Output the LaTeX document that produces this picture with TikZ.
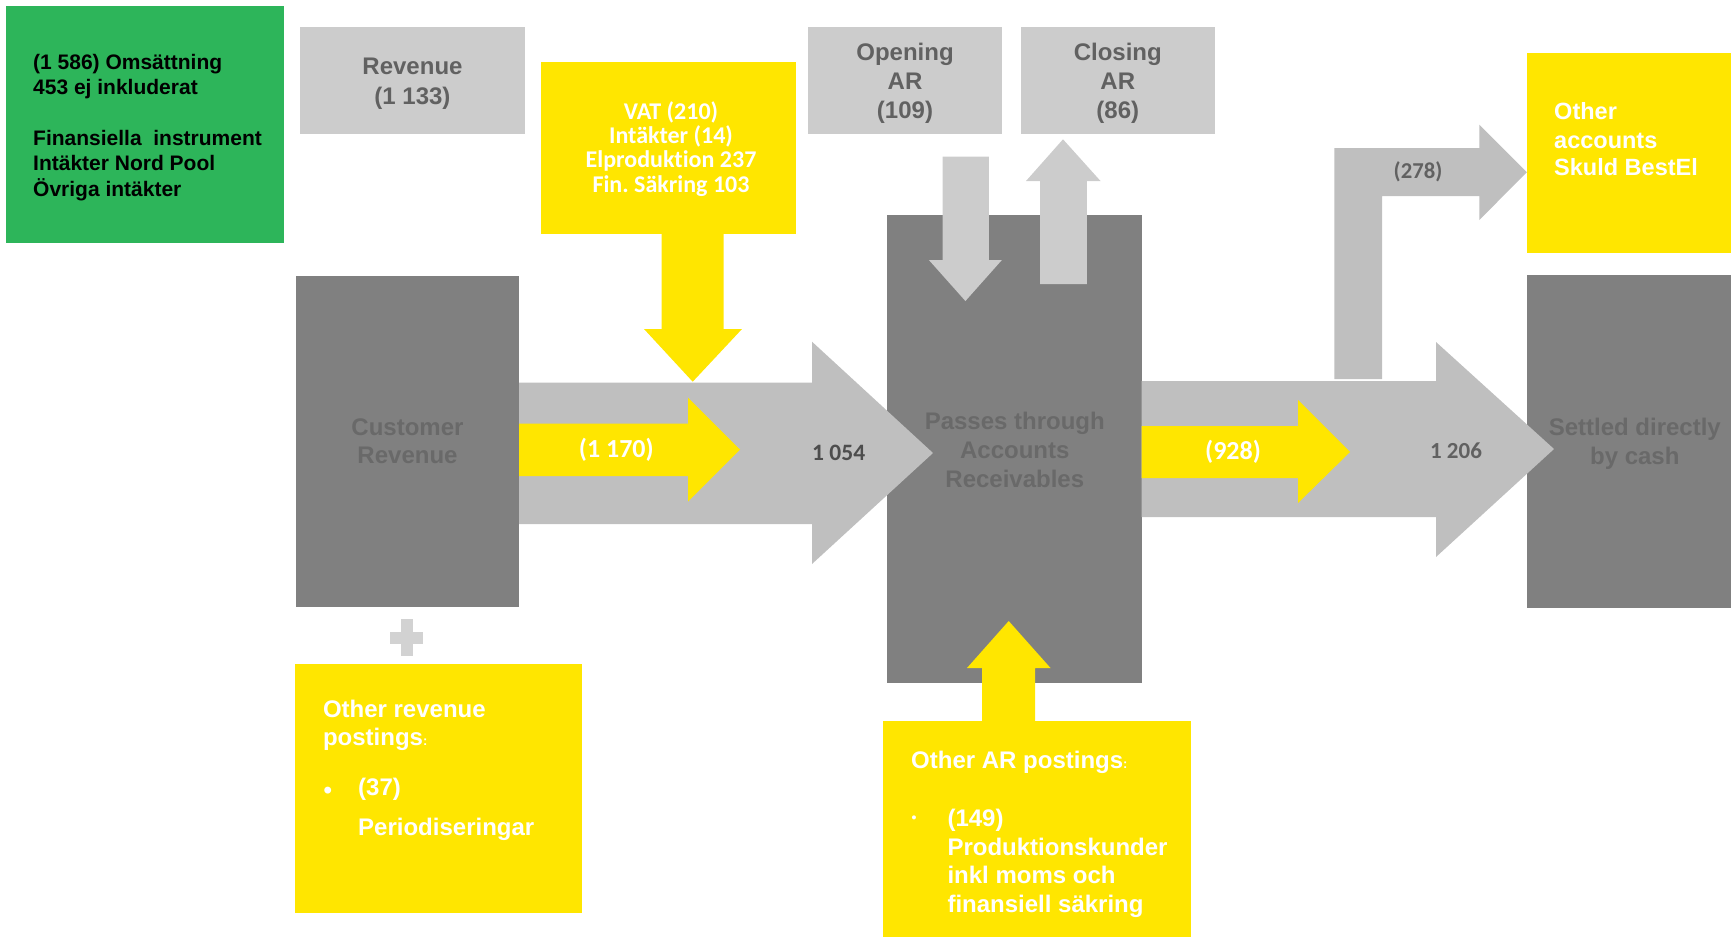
\documentclass[tikz,border=0pt]{standalone}
\usepackage{fontspec}
\setmainfont{Liberation Sans}
\newfontfamily\calfont{Carlito}[Ligatures=NoCommon]
\usetikzlibrary{fit}
\frenchspacing
\definecolor{eygreen}{HTML}{2DB55A}
\definecolor{eyyellow}{HTML}{FFE600}
\definecolor{boxlight}{HTML}{CCCCCC}
\definecolor{arrowgray}{HTML}{BFBFBF}
\definecolor{boxdark}{HTML}{808080}
\definecolor{txtlight}{HTML}{616161}
\definecolor{txtdark}{HTML}{696969}
\definecolor{numtxt}{HTML}{4D4D4D}
\definecolor{plusgray}{HTML}{D2D2D2}
\tikzset{
  blk/.style={inner sep=0pt, outer sep=0pt, draw=none},
  ln/.style={inner sep=0pt, anchor=base},
  lnl/.style={inner sep=0pt, anchor=base west},
  aria/.style={font=\fontsize{24}{28}\selectfont\bfseries},
  ariagr/.style={font=\fontsize{21}{25}\selectfont\bfseries},
  calb/.style={font=\calfont\fontsize{24}{24}\selectfont\bfseries},
}
\begin{document}
\begin{tikzpicture}[x=1pt,y=-1pt]
\useasboundingbox (0,0) rectangle (1731,937);

% ---------- boxes ----------
\node[blk, fill=eygreen, fit={(5.5,5.5) (284,243)}] (green) {};
\node[blk, fill=boxlight, fit={(300,27) (525,133.7)}] (rev) {};
\node[blk, fill=eyyellow, fit={(541,62) (796,234)}] (vat) {};
\node[blk, fill=boxlight, fit={(807.7,27) (1002,133.7)}] (open) {};
\node[blk, fill=boxlight, fit={(1021,27) (1214.5,133.7)}] (close) {};
\node[blk, fill=eyyellow, fit={(1526.8,53) (1731,253)}] (other) {};
\node[blk, fill=boxdark, fit={(296,276) (519,606.5)}] (cust) {};
\node[blk, fill=boxdark, fit={(886.5,215) (1141.5,682.7)}] (ar) {};
\node[blk, fill=boxdark, fit={(1527,275) (1731,608)}] (cash) {};
\node[blk, fill=eyyellow, fit={(295,664) (582,913.3)}] (orp) {};
\node[blk, fill=eyyellow, fit={(883.3,721) (1191.4,937)}] (oarp) {};

% plus sign
\node[blk, fill=plusgray, fit={(401,619) (413,656)}] (plusv) {};
\node[blk, fill=plusgray, fit={(390,632) (423,644)}] (plush) {};

% ---------- block arrows ----------
% customer revenue -> AR
\fill[arrowgray] (519,382.7) -- (812,382.7) -- (812,341.7) -- (933,453)
  -- (812,564) -- (812,524) -- (519,524) -- cycle;
% AR -> settled by cash
\fill[arrowgray] (1141.5,381) -- (1436,381) -- (1436,342) -- (1554,449)
  -- (1436,557) -- (1436,517) -- (1141.5,517) -- cycle;
% bent arrow to other accounts
\fill[arrowgray] (1334.4,379) -- (1334.4,148) -- (1479.3,148) -- (1479.3,124.7)
  -- (1526.8,172.3) -- (1479.3,220) -- (1479.3,196) -- (1382,196) -- (1382,379) -- cycle;
% yellow inner arrows
\fill[eyyellow] (519,423.5) -- (688,423.5) -- (688,397.7) -- (740,449.5)
  -- (688,501.7) -- (688,476) -- (519,476) -- cycle;
\fill[eyyellow] (1141.5,426) -- (1298,426) -- (1298,400) -- (1350,452)
  -- (1298,503) -- (1298,478) -- (1141.5,478) -- cycle;
% VAT down arrow
\fill[eyyellow] (661.7,234) -- (723.7,234) -- (723.7,329) -- (742,329)
  -- (692.7,381.7) -- (644,329) -- (661.7,329) -- cycle;
% other AR postings up arrow
\fill[eyyellow] (982,721) -- (982,668) -- (967,668) -- (1008.7,621)
  -- (1050.5,668) -- (1035,668) -- (1035,721) -- cycle;
% opening AR down arrow
\fill[boxlight] (942.5,156.7) -- (988.8,156.7) -- (988.8,260) -- (1001.9,260)
  -- (965.4,301) -- (928.9,260) -- (942.5,260) -- cycle;
% closing AR up arrow
\fill[boxlight] (1040,284) -- (1040,181) -- (1026,181) -- (1063,139.3)
  -- (1100.5,181) -- (1086.8,181) -- (1086.8,284) -- cycle;

% ---------- texts ----------
% green box
\node[lnl, ariagr, text=black] (g1) at (33,69) {(1 586) Omsättning};
\node[lnl, ariagr, text=black] (g2) at (33,94.7) {453 ej inkluderat};
\node[lnl, ariagr, text=black] (g3) at (33,145.5) {Finansiella\ \ instrument};
\node[lnl, ariagr, text=black] (g4) at (33,170.5) {Intäkter Nord Pool};
\node[lnl, ariagr, text=black] (g5) at (33,196.5) {Övriga intäkter};

% revenue
\node[ln, aria, text=txtlight] (r1) at (412.5,74.3) {Revenue};
\node[ln, aria, text=txtlight] (r2) at (412.5,104) {(1 133)};

% VAT
\node[ln, calb, text=white] (v1) at (671,119.4) {VAT (210)};
\node[ln, calb, text=white] (v2) at (671,143.7) {Intäkter (14)};
\node[ln, calb, text=white] (v3) at (671,167.8) {Elproduktion 237};
\node[ln, calb, text=white] (v4) at (671,192) {Fin. Säkring 103};

% opening / closing
\node[ln, aria, text=txtlight] (o1) at (905,60.7) {Opening};
\node[ln, aria, text=txtlight] (o2) at (905,89) {AR};
\node[ln, aria, text=txtlight] (o3) at (905,118) {(109)};
\node[ln, aria, text=txtlight] (c1) at (1117.8,60.7) {Closing};
\node[ln, aria, text=txtlight] (c2) at (1117.8,89) {AR};
\node[ln, aria, text=txtlight] (c3) at (1117.8,118) {(86)};

% other accounts
\node[lnl, font=\fontsize{23.5}{28}\selectfont\bfseries, text=white] (oa1) at (1554,119) {Other};
\node[lnl, font=\fontsize{23.5}{28}\selectfont\bfseries, text=white] (oa2) at (1554,148) {accounts};
\node[lnl, font=\fontsize{23.5}{28}\selectfont\bfseries, text=white] (oa3) at (1554,175.7) {Skuld BestEl};

% (278)
\node[ln, font=\calfont\fontsize{22.7}{24}\selectfont\bfseries, text=txtlight] (n278) at (1418,178) {(278)};

% customer revenue
\node[ln, aria, text=txtdark] (cr1) at (407.5,435) {Customer};
\node[ln, aria, text=txtdark] (cr2) at (407.5,463.5) {Revenue};

% passes through
\node[ln, aria, text=txtdark] (p1) at (1014.8,429.7) {Passes through};
\node[ln, aria, text=txtdark] (p2) at (1014.8,458) {Accounts};
\node[ln, aria, text=txtdark] (p3) at (1014.8,487.3) {Receivables};

% settled
\node[ln, aria, text=txtdark] (s1) at (1634.8,435.7) {Settled directly};
\node[ln, aria, text=txtdark] (s2) at (1634.8,464.7) {by cash};

% arrow numbers
\node[ln, font=\calfont\fontsize{26}{26}\selectfont\bfseries, text=white] (n1170) at (616.3,457.8) {(1 170)};
\node[ln, font=\calfont\fontsize{23.5}{24}\selectfont\bfseries, text=numtxt] (n1054) at (838.7,460) {1 054};
\node[ln, font=\calfont\fontsize{26}{26}\selectfont\bfseries, text=white] (n928) at (1233,459.5) {(928)};
\node[ln, font=\calfont\fontsize{23}{24}\selectfont\bfseries, text=txtlight] (n1206) at (1456,458) {1 206};

% other revenue postings
\node[lnl, aria, text=white] (or1) at (322.8,717.3) {Other revenue};
\node[lnl, aria, text=white] (or2) at (322.8,745.3) {postings\fontsize{13}{14}\selectfont:};
\node[lnl, aria, text=white] (or3) at (323.5,798) {•};
\node[lnl, aria, text=white] (or4) at (358,795.3) {(37)};
\node[lnl, aria, text=white] (or5) at (358,835.7) {Periodiseringar};

% other AR postings
\node[lnl, aria, text=white] (oar1) at (911,768) {Other AR postings\fontsize{13}{14}\selectfont:};
\node[lnl, font=\fontsize{14}{14}\selectfont\bfseries, text=white] (oar2) at (911.5,822) {•};
\node[lnl, aria, text=white] (oar3) at (947.3,826.3) {(149)};
\node[lnl, aria, text=white] (oar4) at (947.3,855.3) {Produktionskunder};
\node[lnl, aria, text=white] (oar5) at (947.3,883.3) {inkl moms och};
\node[lnl, aria, text=white] (oar6) at (947.3,912) {finansiell säkring};
\end{tikzpicture}
\end{document}
